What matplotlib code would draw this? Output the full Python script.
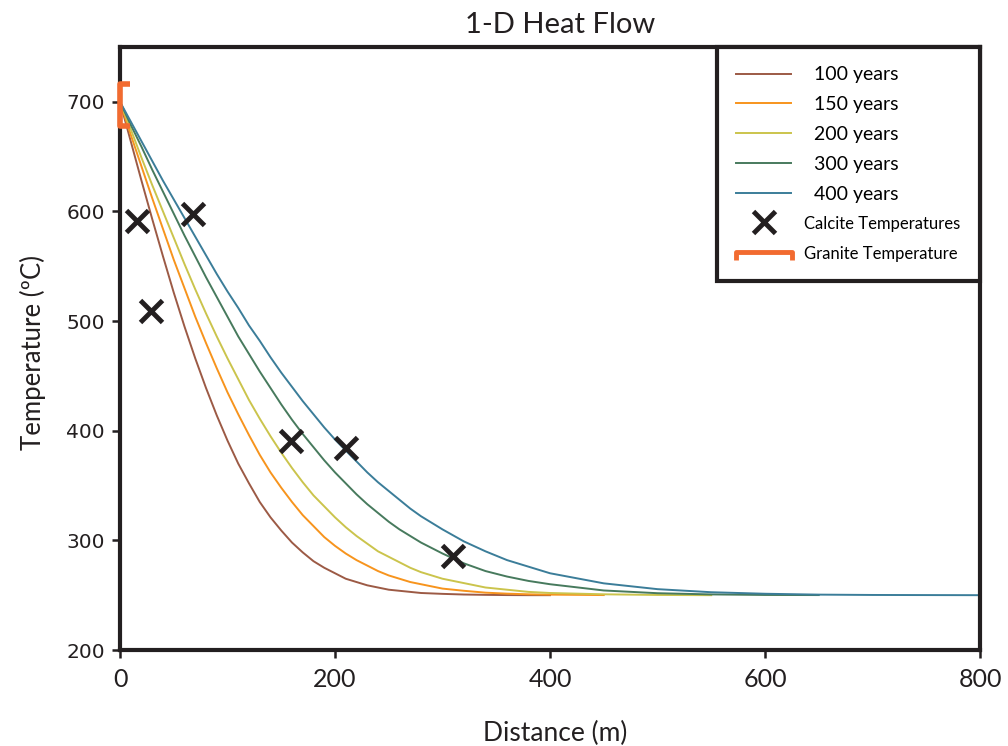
import matplotlib
matplotlib.use("Agg")
import matplotlib.pyplot as plt
from matplotlib.path import Path
from matplotlib.lines import Line2D

plt.rcParams['font.family'] = ['Lato', 'DejaVu Sans']

# distance (m) shared by all curves, each curve stops where it was cut
dist = [0, 10, 20, 30, 40, 50, 60, 70, 80, 90, 100, 110, 120, 130, 140, 150,
        160, 170, 180, 190, 200, 210, 220, 230, 240, 250, 260, 270, 280, 290,
        300, 320, 340, 360, 380, 400, 450, 500, 550, 600, 650, 700, 750, 800]

t100 = [700, 664, 628, 593, 559, 526, 495, 466, 439, 414, 391, 370, 352, 335,
        321, 309, 298, 289, 281, 275, 270, 265, 262, 259, 257, 255, 254, 253,
        252, 251.6, 251.2, 250.6, 250.3, 250.1, 250, 250]
t150 = [700, 670, 641, 612, 584, 556, 530, 504, 480, 457, 435, 415, 396, 378,
        362, 348, 335, 323, 313, 303, 295, 288, 282, 277, 272, 268, 265, 262,
        260, 258, 256, 254, 252.3, 251.4, 250.8, 250.5, 250.1]
t200 = [700, 675, 649, 624, 600, 576, 552, 529, 507, 486, 466, 447, 428, 411,
        395, 380, 366, 353, 341, 331, 321, 312, 304, 297, 290, 285, 280, 275,
        271, 268, 265, 261, 257, 255, 253, 252, 250.8, 250.2, 250]
t300 = [700, 679, 659, 638, 618, 598, 578, 559, 540, 522, 504, 486, 470, 454,
        439, 424, 410, 397, 385, 373, 362, 352, 342, 333, 325, 317, 310, 304,
        298, 293, 288, 279, 272, 267, 263, 260, 254.3, 251.8, 250.7, 250.2,
        250.1]
t400 = [700, 682, 664, 646, 628, 611, 594, 577, 560, 543, 527, 512, 496, 482,
        467, 453, 440, 427, 415, 403, 392, 382, 372, 362, 353, 345, 337, 329,
        322, 316, 310, 299, 290, 282, 276, 270, 260.8, 255.5, 252.7, 251.3,
        250.5, 250.2, 250.1, 250]

curves = [t100, t150, t200, t300, t400]
labels = ['100 years', '150 years', '200 years', '300 years', '400 years']
colors = ['#9c5a45', '#f7941d', '#cbc44c', '#477a5d', '#3b7d99']

# calcite thermometry
calc_x = [16, 29, 68, 159, 210, 310]
calc_t = [591, 509, 598, 391, 384, 286]

granite_x = [0]
granite_t = [697]

ink = '#231f20'
orange = '#f26b30'

fig = plt.figure(figsize=(10.08, 7.46), dpi=100)
ax = fig.add_axes([120 / 1008, 1 - 650 / 746, 860 / 1008, 603 / 746])

for t, lab, c in zip(curves, labels, colors):
    ax.plot(dist[:len(t)], t, color=c, lw=1.4, label='  ' + lab)

ax.plot(calc_x, calc_t, ls='none', marker='x', ms=16, mew=3.5, color=ink,
        zorder=4, label='Calcite Temperatures')

# bracket shaped markers for the granite temperature
bracket_v = Path([(0.5, -1), (0, -1), (0, 1), (0.5, 1)])
bracket_h = Path([(-1, -0.3), (-1, 0), (1, 0), (1, -0.3)])
ax.plot(granite_x, granite_t, ls='none', marker=bracket_v, ms=30, mew=4,
        mfc='none', mec=orange, clip_on=False, zorder=5)

ax.set_xlim(0, 800)
ax.set_ylim(200, 750)
ax.set_xticks([0, 200, 400, 600, 800])
ax.set_yticks([200, 300, 400, 500, 600, 700])

for s in ax.spines.values():
    s.set_linewidth(3)
    s.set_color(ink)
ax.tick_params(direction='out', length=6, width=1.8, color=ink)
ax.tick_params(axis='x', labelsize=18, pad=7, labelcolor=ink)
ax.tick_params(axis='y', labelsize=14.5, pad=5, labelcolor=ink)
for lbl in ax.get_yticklabels():
    lbl.set_fontfamily('DejaVu Sans')

ax.set_xlabel('Distance (m)', fontsize=19, color=ink, va='center')
ax.xaxis.set_label_coords(0.506, -0.138)
ax.set_ylabel('Temperature (ºC)', fontsize=18.5, color=ink, va='center')
ax.yaxis.set_label_coords(-0.101, 0.493)
ax.text(0.512, 1.037, '1-D Heat Flow', transform=ax.transAxes, fontsize=21,
        ha='center', va='center', color=ink)

handles, labs = ax.get_legend_handles_labels()
handles.append(Line2D([], [], ls='none', marker=bracket_h, ms=40, mew=3.5,
                      mfc='none', mec=orange))
labs.append('Granite Temperature')
leg = ax.legend(handles, labs, loc='upper right', bbox_to_anchor=(1, 1),
                borderaxespad=0, fontsize=14, handlelength=2.83,
                handletextpad=0.67, labelspacing=0.66, borderpad=1.0,
                fancybox=False, framealpha=1, edgecolor=ink)
leg.get_frame().set_linewidth(3)
for txt in leg.get_texts()[5:]:
    txt.set_fontsize(12)

fig.savefig('out.png', dpi=100)
